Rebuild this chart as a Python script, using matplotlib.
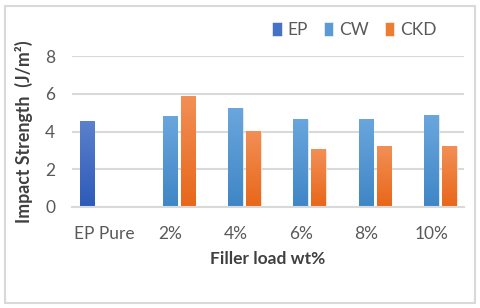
import matplotlib
matplotlib.use("Agg")
import matplotlib.pyplot as plt
import numpy as np
from matplotlib.colors import LinearSegmentedColormap
from matplotlib.patches import Rectangle

categories = ["EP Pure", "2%", "4%", "6%", "8%", "10%"]
ep = [4.55, np.nan, np.nan, np.nan, np.nan, np.nan]
cw = [np.nan, 4.80, 5.24, 4.68, 4.68, 4.86]
ckd = [np.nan, 5.88, 4.03, 3.06, 3.23, 3.23]
yticks = [0, 2, 4, 6, 8]

plt.rcParams['font.family'] = ['Lato', 'DejaVu Sans']

fig = plt.figure(figsize=(4.8, 3.08), dpi=100)
ax = fig.add_axes([0.15, 0.328, 0.817, 0.49])

x = np.arange(len(categories))
w = 0.225
off = 0.27
series = [
    ("EP", ep, -off, "#4472C4", "#5b80cc", "#2c5bb8"),
    ("CW", cw, 0.0, "#5B9BD5", "#6aa6dd", "#3f86c6"),
    ("CKD", ckd, off + 0.005, "#ED7D31", "#f28f55", "#e8671a"),
]
for name, vals, o, col, top, bot in series:
    bars = ax.bar(x + o, vals, w, color=col, label=name, edgecolor="#ffffff",
                  linewidth=0.4, zorder=2)
    cmap = LinearSegmentedColormap.from_list(name, [bot, top])
    for b in bars:
        h = b.get_height()
        if not np.isfinite(h) or h <= 0:
            continue
        grad = np.linspace(0, 1, 64).reshape(-1, 1)
        im = ax.imshow(grad, extent=[b.get_x(), b.get_x() + b.get_width(), 0, h],
                       origin="lower", aspect="auto", cmap=cmap, zorder=2.5)
        im.set_clip_path(b)

ax.set_xlim(-0.5, len(categories) - 0.5)
ax.set_ylim(0, 8)
ax.set_yticks(yticks)
ax.set_xticks(x)
ax.set_xticklabels(categories)
ax.grid(axis="y", color="#d9d9d9", linewidth=1.5, zorder=0)
ax.set_axisbelow(True)
for s in ["top", "right", "left"]:
    ax.spines[s].set_visible(False)
ax.spines["bottom"].set_color("#d9d9d9")
ax.spines["bottom"].set_linewidth(1.5)
ax.tick_params(axis="both", length=0, labelsize=12.5, colors="#595959")
ax.tick_params(axis="x", pad=14)
ax.tick_params(axis="y", pad=12)

ax.set_ylabel("Impact Strength  (J/m²)", fontsize=12.8, fontweight="bold",
              color="#404040", labelpad=9)
ax.set_xlabel("Filler load wt%", fontsize=12.5, fontweight="bold",
              color="#404040", labelpad=6)

leg = ax.legend(loc="upper right", bbox_to_anchor=(0.97, 1.33), ncol=3,
                frameon=False, fontsize=12.5, handlelength=0.55, handleheight=0.9,
                handletextpad=0.35, columnspacing=0.9, labelcolor="#595959")

fig.patches.append(Rectangle((0.011, 0.016), 0.978, 0.966, transform=fig.transFigure,
                             fill=False, edgecolor="#d9d9d9", linewidth=1.5))

fig.savefig("out.png", dpi=100, facecolor="white")
